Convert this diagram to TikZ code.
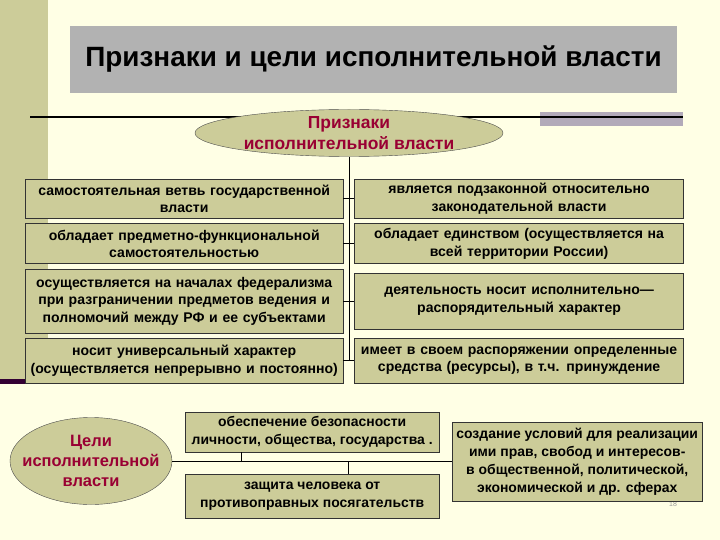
\documentclass[tikz,border=0pt]{standalone}
\usepackage{fontspec}
\setmainfont{Liberation Sans}
\usepackage{xcolor}
\usetikzlibrary{positioning,shapes.geometric}
\definecolor{cream}{RGB}{255,255,229}
\definecolor{khaki}{RGB}{204,204,153}
\definecolor{plum}{RGB}{51,0,51}
\definecolor{slate}{RGB}{178,170,185}
\definecolor{maroon}{RGB}{153,0,51}

\begin{document}
\begin{tikzpicture}[x=1bp,y=-1bp,
  sign/.style={draw=black!80,fill=khaki,align=center,inner sep=1bp,
    font=\bfseries\fontsize{14.1}{17.5}\selectfont},
  goal/.style={draw=black!80,fill=khaki,align=center,inner sep=1bp,
    font=\bfseries\fontsize{14}{18}\selectfont},
  oval/.style={ellipse,draw=black!70,fill=khaki,inner sep=0pt,text=maroon,align=center,
    font=\bfseries\fontsize{17.5}{21}\selectfont},
  link/.style={draw=black,line width=0.8bp}]
  \useasboundingbox (0,0) rectangle (720,540);
  \fill[cream] (0,0) rectangle (720,540);
  \fill[khaki] (0,0) rectangle (48,382);
  \fill[plum] (0,379) rectangle (48,384);
  \node[fill=black!30,minimum width=607bp,minimum height=67bp,
    font=\bfseries\fontsize{28}{32}\selectfont] (title) at (373.5,59.5)
    {Признаки и цели исполнительной власти};
  \fill[slate] (540,112) rectangle (683,126);
  \draw[line width=1.8bp] (30,117) -- (683,117);
  \node[oval,minimum width=308bp,minimum height=47bp,inner xsep=-2bp,inner ysep=-9bp]
    (signs) at (349,133) {Признаки\\исполнительной власти};
  % признаки
  \node[sign,text width=316bp,minimum height=39bp,anchor=north west] (l1) at (25,179)
    {самостоятельная ветвь государственной\\власти};
  \node[sign,text width=316bp,minimum height=40bp,below=5bp of l1] (l2)
    {обладает предметно-функциональной\\самостоятельностью};
  \node[sign,text width=316bp,minimum height=64bp,below=5bp of l2] (l3)
    {осуществляется на началах федерализма\\при разграничении предметов  ведения и\\полномочий между РФ и ее субъектами};
  \node[sign,text width=316bp,minimum height=45bp,below=5bp of l3] (l4)
    {носит универсальный характер\\(осуществляется непрерывно и постоянно)};
  \node[sign,text width=327bp,minimum height=39bp,right=11bp of l1] (r1)
    {является подзаконной относительно\\законодательной власти};
  \node[sign,text width=327bp,minimum height=40bp,right=11bp of l2] (r2)
    {обладает единством (осуществляется на\\всей территории России)};
  \node[sign,text width=327bp,minimum height=56bp,right=11bp of l3] (r3)
    {деятельность носит исполнительно—\\распорядительный характер};
  \node[sign,text width=327bp,minimum height=45bp,right=11bp of l4] (r4)
    {имеет в своем распоряжении определенные\\средства (ресурсы), в  т.ч. принуждение};
  \draw[link] (signs.south) -- (signs.south |- l4.east);
  \foreach \r in {1,...,4}
    \draw[link] (l\r.east) -- (r\r.west);
  % цели
  \node[oval,minimum width=162bp,minimum height=87bp,inner xsep=-20bp,inner ysep=-4bp,
    font=\bfseries\fontsize{16.5}{20}\selectfont] (goals) at (91,461)
    {Цели\\исполнительной\\власти};
  \node[goal,minimum width=254bp,minimum height=40bp,anchor=north west] (g1) at (185,412)
    {обеспечение безопасности\\личности, общества, государства .};
  \node[goal,minimum width=254bp,minimum height=44bp,below=22bp of g1] (g2)
    {защита человека от\\противоправных посягательств};
  \node[font=\fontsize{7}{8}\selectfont,text=black!40] (pgnum) at (673,504) {18};
  \node[goal,minimum width=250bp,minimum height=79bp,anchor=west] (g3) at (452,462)
    {создание условий для реализации\\ими прав, свобод и интересов-\\в общественной, политической,\\экономической и др. сферах};
  \coordinate (split1) at (241,462);
  \coordinate (split2) at (348,462);
  \draw[link] (goals.east) -- (goals.east -| g3.west);
  \draw[link] (split1) -- (split1 |- g1.south);
  \draw[link] (split2) -- (split2 |- g2.north);
\end{tikzpicture}
\end{document}
